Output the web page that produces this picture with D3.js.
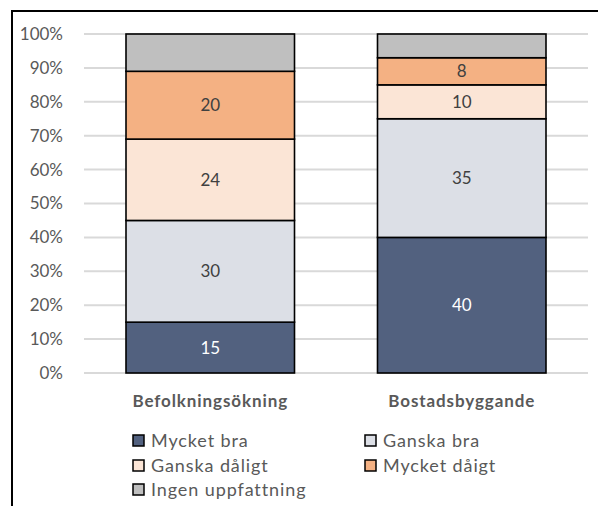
<!DOCTYPE html>
<html lang="sv">
<head>
<meta charset="UTF-8">
<title>Stacked bars</title>
<style>
body{margin:0;background:#fff;}
svg text{font-family:Lato,"Noto Sans",sans-serif;}
</style>
</head>
<body>
<div class="chart"></div>
<script src="https://d3js.org/d3.v7.min.js"></script>
<script>
var categories = ['Befolkningsökning', 'Bostadsbyggande'];
var seriesNames = ['Mycket bra', 'Ganska bra', 'Ganska dåligt', 'Mycket dåigt', 'Ingen uppfattning'];
var seriesColors = ['#52617f', '#dcdfe6', '#fbe5d6', '#f4b183', '#bfbfbf'];
var labelColors = ['#ffffff', '#404040', '#404040', '#404040', null];
var mycketBra = [15, 40];
var ganskaBra = [30, 35];
var ganskaDaligt = [24, 10];
var mycketDaligt = [20, 8];
var ingen = [11, 7];
var tickValues = [0, 10, 20, 30, 40, 50, 60, 70, 80, 90, 100];

var W = 598, H = 506;
var margin = {top: 34, right: 10, bottom: 133, left: 84};
var width = 588 - margin.left;
var height = 373 - margin.top;

var svg = d3.select('.chart').append('svg')
	.attr('width', W).attr('height', H);

// outer frame (only top and left visible)
svg.append('path')
	.attr('d', 'M12,' + H + 'V11H' + W)
	.attr('fill', 'none').attr('stroke', '#000').attr('stroke-width', 2);

var g = svg.append('g').attr('transform', `translate(${margin.left},${margin.top})`);

var rows = categories.map(function(c, i){
	return {cat: c, v: [mycketBra[i], ganskaBra[i], ganskaDaligt[i], mycketDaligt[i], ingen[i]]};
});
var stack = d3.stack().keys([0,1,2,3,4]).value(function(d, k){ return d.v[k]; });
var layers = stack(rows);

var x = d3.scaleBand().domain(categories).range([0, width]).paddingInner(0.33).paddingOuter(0.167);
var y = d3.scaleLinear().domain([0, 100]).range([height, 0]);

// gridlines
g.append('g').selectAll('line').data(tickValues).join('line')
	.attr('x1', 0).attr('x2', width)
	.attr('y1', d => y(d)).attr('y2', d => y(d))
	.attr('stroke', '#d9d9d9').attr('stroke-width', 2);

// y axis labels
var yAxis = d3.axisLeft(y).tickValues(tickValues).tickFormat(d => d + '%').tickSize(0).tickPadding(21);
var ya = g.append('g').call(yAxis);
ya.select('.domain').remove();
ya.selectAll('text').attr('fill', '#595959').style('font-size', '17px').style('font-family', 'Lato,"Noto Sans",sans-serif');

// bars
var layerG = g.selectAll('.layer').data(layers).join('g').attr('class', 'layer')
	.attr('fill', (d, i) => seriesColors[i]);
layerG.selectAll('rect').data(d => d).join('rect')
	.attr('x', d => x(d.data.cat))
	.attr('width', x.bandwidth())
	.attr('y', d => y(d[1]))
	.attr('height', d => y(d[0]) - y(d[1]))
	.attr('stroke', '#000').attr('stroke-width', 1.6);

// data labels
layers.forEach(function(layer, i){
	if(!labelColors[i]) return;
	g.append('g').selectAll('text').data(layer).join('text')
		.attr('x', d => x(d.data.cat) + x.bandwidth() / 2)
		.attr('y', d => (y(d[0]) + y(d[1])) / 2)
		.attr('dy', '0.36em')
		.attr('text-anchor', 'middle')
		.attr('fill', labelColors[i])
		.style('font-size', '17px')
		.text(d => d[1] - d[0]);
});

// category labels
g.append('g').selectAll('text').data(categories).join('text')
	.attr('x', d => x(d) + x.bandwidth() / 2)
	.attr('y', height + 34)
	.attr('text-anchor', 'middle')
	.attr('fill', '#595959')
	.style('font-size', '17px').style('font-weight', 'bold').style('letter-spacing', '0.9px')
	.text(d => d);

// legend
var legX = [133, 365], legY = [441, 466, 490];
var leg = svg.append('g').selectAll('g').data(seriesNames).join('g')
	.attr('transform', (d, i) => `translate(${legX[i % 2]},${legY[Math.floor(i / 2)]})`);
leg.append('rect')
	.attr('x', 0).attr('y', -6).attr('width', 11).attr('height', 11)
	.attr('fill', (d, i) => seriesColors[i])
	.attr('stroke', '#000').attr('stroke-width', 1.5);
leg.append('text')
	.attr('x', 18).attr('dy', '0.36em')
	.attr('fill', '#595959')
	.style('font-size', '18px').style('letter-spacing', '0.9px')
	.text(d => d);
</script>
</body>
</html>
